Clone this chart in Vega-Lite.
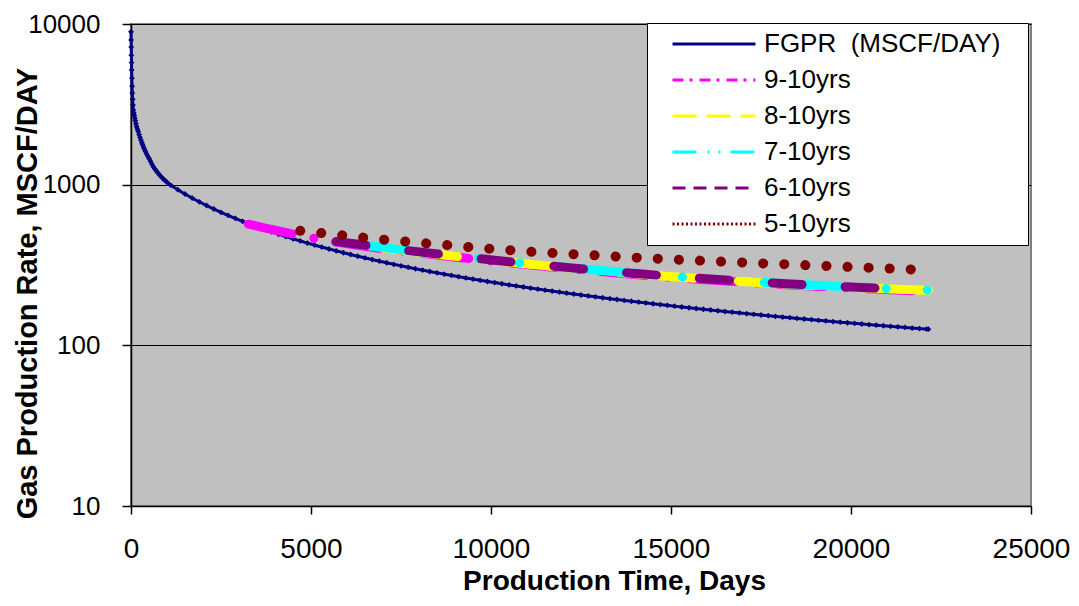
{
"$schema":"https://vega.github.io/schema/vega-lite/v6.json",
"width":900,"height":482,
"autosize":{"type":"none"},
"padding":{"left":131,"top":24,"right":48,"bottom":100},
"background":"white",
"config":{
 "font":"Liberation Sans",
 "view":{"fill":"#C0C0C0","stroke":"#808080","strokeWidth":2},
 "axis":{"domainColor":"black","domainWidth":1.5,"tickColor":"black","tickWidth":1.5,"labelColor":"black","titleColor":"black","labelFont":"Liberation Sans","titleFont":"Liberation Sans","titleFontWeight":"bold"}
},
"data":{"values":[
{"t":0,"q":8950,"s":"FGPR\u00a0\u00a0(MSCF/DAY)\u2800"},{"t":3,"q":7950,"s":"FGPR\u00a0\u00a0(MSCF/DAY)\u2800"},{"t":6,"q":7180,"s":"FGPR\u00a0\u00a0(MSCF/DAY)\u2800"},{"t":10,"q":6400,"s":"FGPR\u00a0\u00a0(MSCF/DAY)\u2800"},{"t":14,"q":5750,"s":"FGPR\u00a0\u00a0(MSCF/DAY)\u2800"},{"t":18,"q":5180,"s":"FGPR\u00a0\u00a0(MSCF/DAY)\u2800"},{"t":24,"q":4600,"s":"FGPR\u00a0\u00a0(MSCF/DAY)\u2800"},{"t":30,"q":4100,"s":"FGPR\u00a0\u00a0(MSCF/DAY)\u2800"},{"t":37,"q":3720,"s":"FGPR\u00a0\u00a0(MSCF/DAY)\u2800"},{"t":45,"q":3400,"s":"FGPR\u00a0\u00a0(MSCF/DAY)\u2800"},{"t":55,"q":3130,"s":"FGPR\u00a0\u00a0(MSCF/DAY)\u2800"},{"t":65,"q":2917,"s":"FGPR\u00a0\u00a0(MSCF/DAY)\u2800"},{"t":77,"q":2800,"s":"FGPR\u00a0\u00a0(MSCF/DAY)\u2800"},{"t":90,"q":2700,"s":"FGPR\u00a0\u00a0(MSCF/DAY)\u2800"},{"t":105,"q":2600,"s":"FGPR\u00a0\u00a0(MSCF/DAY)\u2800"},{"t":120,"q":2500,"s":"FGPR\u00a0\u00a0(MSCF/DAY)\u2800"},{"t":138,"q":2395,"s":"FGPR\u00a0\u00a0(MSCF/DAY)\u2800"},{"t":157,"q":2296,"s":"FGPR\u00a0\u00a0(MSCF/DAY)\u2800"},{"t":178,"q":2215,"s":"FGPR\u00a0\u00a0(MSCF/DAY)\u2800"},{"t":200,"q":2140,"s":"FGPR\u00a0\u00a0(MSCF/DAY)\u2800"},{"t":225,"q":2050,"s":"FGPR\u00a0\u00a0(MSCF/DAY)\u2800"},{"t":250,"q":1970,"s":"FGPR\u00a0\u00a0(MSCF/DAY)\u2800"},{"t":275,"q":1898,"s":"FGPR\u00a0\u00a0(MSCF/DAY)\u2800"},{"t":300,"q":1830,"s":"FGPR\u00a0\u00a0(MSCF/DAY)\u2800"},{"t":320,"q":1780,"s":"FGPR\u00a0\u00a0(MSCF/DAY)\u2800"},{"t":343,"q":1722,"s":"FGPR\u00a0\u00a0(MSCF/DAY)\u2800"},{"t":370,"q":1668,"s":"FGPR\u00a0\u00a0(MSCF/DAY)\u2800"},{"t":400,"q":1610,"s":"FGPR\u00a0\u00a0(MSCF/DAY)\u2800"},{"t":435,"q":1553,"s":"FGPR\u00a0\u00a0(MSCF/DAY)\u2800"},{"t":470,"q":1500,"s":"FGPR\u00a0\u00a0(MSCF/DAY)\u2800"},{"t":505,"q":1449,"s":"FGPR\u00a0\u00a0(MSCF/DAY)\u2800"},{"t":540,"q":1400,"s":"FGPR\u00a0\u00a0(MSCF/DAY)\u2800"},{"t":580,"q":1346,"s":"FGPR\u00a0\u00a0(MSCF/DAY)\u2800"},{"t":620,"q":1294,"s":"FGPR\u00a0\u00a0(MSCF/DAY)\u2800"},{"t":660,"q":1256,"s":"FGPR\u00a0\u00a0(MSCF/DAY)\u2800"},{"t":700,"q":1220,"s":"FGPR\u00a0\u00a0(MSCF/DAY)\u2800"},{"t":750,"q":1182,"s":"FGPR\u00a0\u00a0(MSCF/DAY)\u2800"},{"t":800,"q":1145,"s":"FGPR\u00a0\u00a0(MSCF/DAY)\u2800"},{"t":850,"q":1114,"s":"FGPR\u00a0\u00a0(MSCF/DAY)\u2800"},{"t":900,"q":1085,"s":"FGPR\u00a0\u00a0(MSCF/DAY)\u2800"},{"t":950,"q":1059,"s":"FGPR\u00a0\u00a0(MSCF/DAY)\u2800"},{"t":1000,"q":1035,"s":"FGPR\u00a0\u00a0(MSCF/DAY)\u2800"},{"t":1100,"q":994,"s":"FGPR\u00a0\u00a0(MSCF/DAY)\u2800"},
{"t":1300,"q":930.8,"s":"FGPR\u00a0\u00a0(MSCF/DAY)\u2800"},{"t":1500,"q":874.9,"s":"FGPR\u00a0\u00a0(MSCF/DAY)\u2800"},{"t":1700,"q":825.4,"s":"FGPR\u00a0\u00a0(MSCF/DAY)\u2800"},{"t":1900,"q":781.2,"s":"FGPR\u00a0\u00a0(MSCF/DAY)\u2800"},{"t":2100,"q":741.5,"s":"FGPR\u00a0\u00a0(MSCF/DAY)\u2800"},{"t":2300,"q":705.6,"s":"FGPR\u00a0\u00a0(MSCF/DAY)\u2800"},{"t":2500,"q":673,"s":"FGPR\u00a0\u00a0(MSCF/DAY)\u2800"},{"t":2700,"q":643.3,"s":"FGPR\u00a0\u00a0(MSCF/DAY)\u2800"},{"t":2900,"q":616.2,"s":"FGPR\u00a0\u00a0(MSCF/DAY)\u2800"},{"t":3100,"q":591.2,"s":"FGPR\u00a0\u00a0(MSCF/DAY)\u2800"},{"t":3300,"q":568.1,"s":"FGPR\u00a0\u00a0(MSCF/DAY)\u2800"},{"t":3500,"q":546.8,"s":"FGPR\u00a0\u00a0(MSCF/DAY)\u2800"},{"t":3700,"q":527.1,"s":"FGPR\u00a0\u00a0(MSCF/DAY)\u2800"},{"t":3900,"q":508.7,"s":"FGPR\u00a0\u00a0(MSCF/DAY)\u2800"},{"t":4100,"q":491.5,"s":"FGPR\u00a0\u00a0(MSCF/DAY)\u2800"},{"t":4300,"q":475.5,"s":"FGPR\u00a0\u00a0(MSCF/DAY)\u2800"},{"t":4500,"q":460.5,"s":"FGPR\u00a0\u00a0(MSCF/DAY)\u2800"},{"t":4700,"q":446.4,"s":"FGPR\u00a0\u00a0(MSCF/DAY)\u2800"},{"t":4900,"q":433.1,"s":"FGPR\u00a0\u00a0(MSCF/DAY)\u2800"},{"t":5100,"q":420.7,"s":"FGPR\u00a0\u00a0(MSCF/DAY)\u2800"},{"t":5300,"q":408.9,"s":"FGPR\u00a0\u00a0(MSCF/DAY)\u2800"},{"t":5500,"q":397.7,"s":"FGPR\u00a0\u00a0(MSCF/DAY)\u2800"},{"t":5700,"q":387.2,"s":"FGPR\u00a0\u00a0(MSCF/DAY)\u2800"},{"t":5900,"q":377.1,"s":"FGPR\u00a0\u00a0(MSCF/DAY)\u2800"},{"t":6100,"q":367.6,"s":"FGPR\u00a0\u00a0(MSCF/DAY)\u2800"},{"t":6300,"q":358.6,"s":"FGPR\u00a0\u00a0(MSCF/DAY)\u2800"},{"t":6500,"q":350,"s":"FGPR\u00a0\u00a0(MSCF/DAY)\u2800"},{"t":6700,"q":341.8,"s":"FGPR\u00a0\u00a0(MSCF/DAY)\u2800"},{"t":6900,"q":334,"s":"FGPR\u00a0\u00a0(MSCF/DAY)\u2800"},{"t":7100,"q":326.5,"s":"FGPR\u00a0\u00a0(MSCF/DAY)\u2800"},{"t":7300,"q":319.3,"s":"FGPR\u00a0\u00a0(MSCF/DAY)\u2800"},{"t":7500,"q":312.5,"s":"FGPR\u00a0\u00a0(MSCF/DAY)\u2800"},{"t":7700,"q":305.9,"s":"FGPR\u00a0\u00a0(MSCF/DAY)\u2800"},{"t":7900,"q":299.6,"s":"FGPR\u00a0\u00a0(MSCF/DAY)\u2800"},{"t":8100,"q":293.7,"s":"FGPR\u00a0\u00a0(MSCF/DAY)\u2800"},{"t":8300,"q":288,"s":"FGPR\u00a0\u00a0(MSCF/DAY)\u2800"},{"t":8500,"q":282.5,"s":"FGPR\u00a0\u00a0(MSCF/DAY)\u2800"},{"t":8700,"q":277.4,"s":"FGPR\u00a0\u00a0(MSCF/DAY)\u2800"},{"t":8900,"q":272.3,"s":"FGPR\u00a0\u00a0(MSCF/DAY)\u2800"},{"t":9100,"q":267.5,"s":"FGPR\u00a0\u00a0(MSCF/DAY)\u2800"},{"t":9300,"q":262.8,"s":"FGPR\u00a0\u00a0(MSCF/DAY)\u2800"},{"t":9500,"q":258.3,"s":"FGPR\u00a0\u00a0(MSCF/DAY)\u2800"},{"t":9700,"q":253.9,"s":"FGPR\u00a0\u00a0(MSCF/DAY)\u2800"},{"t":9900,"q":249.7,"s":"FGPR\u00a0\u00a0(MSCF/DAY)\u2800"},{"t":10100,"q":245.7,"s":"FGPR\u00a0\u00a0(MSCF/DAY)\u2800"},{"t":10300,"q":241.8,"s":"FGPR\u00a0\u00a0(MSCF/DAY)\u2800"},{"t":10500,"q":237.9,"s":"FGPR\u00a0\u00a0(MSCF/DAY)\u2800"},{"t":10700,"q":234.3,"s":"FGPR\u00a0\u00a0(MSCF/DAY)\u2800"},{"t":10900,"q":230.7,"s":"FGPR\u00a0\u00a0(MSCF/DAY)\u2800"},{"t":11100,"q":227.2,"s":"FGPR\u00a0\u00a0(MSCF/DAY)\u2800"},{"t":11300,"q":223.9,"s":"FGPR\u00a0\u00a0(MSCF/DAY)\u2800"},{"t":11500,"q":220.6,"s":"FGPR\u00a0\u00a0(MSCF/DAY)\u2800"},{"t":11700,"q":217.5,"s":"FGPR\u00a0\u00a0(MSCF/DAY)\u2800"},{"t":11900,"q":214.5,"s":"FGPR\u00a0\u00a0(MSCF/DAY)\u2800"},{"t":12100,"q":211.4,"s":"FGPR\u00a0\u00a0(MSCF/DAY)\u2800"},{"t":12300,"q":208.6,"s":"FGPR\u00a0\u00a0(MSCF/DAY)\u2800"},{"t":12500,"q":205.8,"s":"FGPR\u00a0\u00a0(MSCF/DAY)\u2800"},{"t":12700,"q":203,"s":"FGPR\u00a0\u00a0(MSCF/DAY)\u2800"},{"t":12900,"q":200.4,"s":"FGPR\u00a0\u00a0(MSCF/DAY)\u2800"},{"t":13100,"q":197.8,"s":"FGPR\u00a0\u00a0(MSCF/DAY)\u2800"},{"t":13300,"q":195.2,"s":"FGPR\u00a0\u00a0(MSCF/DAY)\u2800"},{"t":13500,"q":192.8,"s":"FGPR\u00a0\u00a0(MSCF/DAY)\u2800"},{"t":13700,"q":190.4,"s":"FGPR\u00a0\u00a0(MSCF/DAY)\u2800"},{"t":13900,"q":188.1,"s":"FGPR\u00a0\u00a0(MSCF/DAY)\u2800"},{"t":14100,"q":185.8,"s":"FGPR\u00a0\u00a0(MSCF/DAY)\u2800"},{"t":14300,"q":183.6,"s":"FGPR\u00a0\u00a0(MSCF/DAY)\u2800"},{"t":14500,"q":181.5,"s":"FGPR\u00a0\u00a0(MSCF/DAY)\u2800"},{"t":14700,"q":179.3,"s":"FGPR\u00a0\u00a0(MSCF/DAY)\u2800"},{"t":14900,"q":177.3,"s":"FGPR\u00a0\u00a0(MSCF/DAY)\u2800"},{"t":15100,"q":175.2,"s":"FGPR\u00a0\u00a0(MSCF/DAY)\u2800"},{"t":15300,"q":173.3,"s":"FGPR\u00a0\u00a0(MSCF/DAY)\u2800"},{"t":15500,"q":171.4,"s":"FGPR\u00a0\u00a0(MSCF/DAY)\u2800"},{"t":15700,"q":169.5,"s":"FGPR\u00a0\u00a0(MSCF/DAY)\u2800"},{"t":15900,"q":167.7,"s":"FGPR\u00a0\u00a0(MSCF/DAY)\u2800"},{"t":16100,"q":165.9,"s":"FGPR\u00a0\u00a0(MSCF/DAY)\u2800"},{"t":16300,"q":164.1,"s":"FGPR\u00a0\u00a0(MSCF/DAY)\u2800"},{"t":16500,"q":162.4,"s":"FGPR\u00a0\u00a0(MSCF/DAY)\u2800"},{"t":16700,"q":160.8,"s":"FGPR\u00a0\u00a0(MSCF/DAY)\u2800"},{"t":16900,"q":159.1,"s":"FGPR\u00a0\u00a0(MSCF/DAY)\u2800"},{"t":17100,"q":157.5,"s":"FGPR\u00a0\u00a0(MSCF/DAY)\u2800"},{"t":17300,"q":155.9,"s":"FGPR\u00a0\u00a0(MSCF/DAY)\u2800"},{"t":17500,"q":154.4,"s":"FGPR\u00a0\u00a0(MSCF/DAY)\u2800"},{"t":17700,"q":152.9,"s":"FGPR\u00a0\u00a0(MSCF/DAY)\u2800"},{"t":17900,"q":151.4,"s":"FGPR\u00a0\u00a0(MSCF/DAY)\u2800"},{"t":18100,"q":150,"s":"FGPR\u00a0\u00a0(MSCF/DAY)\u2800"},{"t":18300,"q":148.6,"s":"FGPR\u00a0\u00a0(MSCF/DAY)\u2800"},{"t":18500,"q":147.1,"s":"FGPR\u00a0\u00a0(MSCF/DAY)\u2800"},{"t":18700,"q":145.8,"s":"FGPR\u00a0\u00a0(MSCF/DAY)\u2800"},{"t":18900,"q":144.5,"s":"FGPR\u00a0\u00a0(MSCF/DAY)\u2800"},{"t":19100,"q":143.1,"s":"FGPR\u00a0\u00a0(MSCF/DAY)\u2800"},{"t":19300,"q":141.9,"s":"FGPR\u00a0\u00a0(MSCF/DAY)\u2800"},{"t":19500,"q":140.6,"s":"FGPR\u00a0\u00a0(MSCF/DAY)\u2800"},{"t":19700,"q":139.3,"s":"FGPR\u00a0\u00a0(MSCF/DAY)\u2800"},{"t":19900,"q":138.2,"s":"FGPR\u00a0\u00a0(MSCF/DAY)\u2800"},{"t":20100,"q":137,"s":"FGPR\u00a0\u00a0(MSCF/DAY)\u2800"},{"t":20300,"q":135.8,"s":"FGPR\u00a0\u00a0(MSCF/DAY)\u2800"},{"t":20500,"q":134.6,"s":"FGPR\u00a0\u00a0(MSCF/DAY)\u2800"},{"t":20700,"q":133.5,"s":"FGPR\u00a0\u00a0(MSCF/DAY)\u2800"},{"t":20900,"q":132.4,"s":"FGPR\u00a0\u00a0(MSCF/DAY)\u2800"},{"t":21100,"q":131.3,"s":"FGPR\u00a0\u00a0(MSCF/DAY)\u2800"},{"t":21300,"q":130.2,"s":"FGPR\u00a0\u00a0(MSCF/DAY)\u2800"},{"t":21500,"q":129.2,"s":"FGPR\u00a0\u00a0(MSCF/DAY)\u2800"},{"t":21700,"q":128.1,"s":"FGPR\u00a0\u00a0(MSCF/DAY)\u2800"},{"t":21900,"q":127.1,"s":"FGPR\u00a0\u00a0(MSCF/DAY)\u2800"},{"t":22100,"q":126.2,"s":"FGPR\u00a0\u00a0(MSCF/DAY)\u2800"},{"t":22150,"q":126,"s":"FGPR\u00a0\u00a0(MSCF/DAY)\u2800"},
{"t":3258,"q":568,"s":"9-10yrs"},{"t":3700,"q":539,"s":"9-10yrs"},{"t":4100,"q":515,"s":"9-10yrs"},{"t":4500,"q":493,"s":"9-10yrs"},{"t":4972,"q":469,"s":"9-10yrs"},{"t":5700,"q":440,"s":"9-10yrs"},{"t":6300,"q":419,"s":"9-10yrs"},{"t":7000,"q":400,"s":"9-10yrs"},{"t":7700,"q":383,"s":"9-10yrs"},{"t":8400,"q":367,"s":"9-10yrs"},{"t":9100,"q":352,"s":"9-10yrs"},{"t":9800,"q":339,"s":"9-10yrs"},{"t":10500,"q":326,"s":"9-10yrs"},{"t":11200,"q":315,"s":"9-10yrs"},{"t":11900,"q":304,"s":"9-10yrs"},{"t":12600,"q":294,"s":"9-10yrs"},{"t":13300,"q":285,"s":"9-10yrs"},{"t":14000,"q":276,"s":"9-10yrs"},{"t":14700,"q":268,"s":"9-10yrs"},{"t":15400,"q":261,"s":"9-10yrs"},{"t":16100,"q":255,"s":"9-10yrs"},{"t":16800,"q":249,"s":"9-10yrs"},{"t":17500,"q":243,"s":"9-10yrs"},{"t":18200,"q":238,"s":"9-10yrs"},{"t":18900,"q":234,"s":"9-10yrs"},{"t":19600,"q":230,"s":"9-10yrs"},{"t":20300,"q":226,"s":"9-10yrs"},{"t":21000,"q":222.5,"s":"9-10yrs"},{"t":21700,"q":219,"s":"9-10yrs"},{"t":22200,"q":217,"s":"9-10yrs"},
{"t":7000,"q":404,"s":"8-10yrs"},{"t":7700,"q":387,"s":"8-10yrs"},{"t":8400,"q":371,"s":"8-10yrs"},{"t":9100,"q":356,"s":"8-10yrs"},{"t":9800,"q":342.5,"s":"8-10yrs"},{"t":10500,"q":329.5,"s":"8-10yrs"},{"t":11200,"q":318,"s":"8-10yrs"},{"t":11900,"q":307,"s":"8-10yrs"},{"t":12600,"q":297,"s":"8-10yrs"},{"t":13300,"q":287.5,"s":"8-10yrs"},{"t":14000,"q":279,"s":"8-10yrs"},{"t":14700,"q":271,"s":"8-10yrs"},{"t":15400,"q":264,"s":"8-10yrs"},{"t":16100,"q":257.5,"s":"8-10yrs"},{"t":16800,"q":251.5,"s":"8-10yrs"},{"t":17500,"q":245.5,"s":"8-10yrs"},{"t":18200,"q":240.5,"s":"8-10yrs"},{"t":18900,"q":236,"s":"8-10yrs"},{"t":19600,"q":232,"s":"8-10yrs"},{"t":20300,"q":228,"s":"8-10yrs"},{"t":21000,"q":225,"s":"8-10yrs"},{"t":21700,"q":221.5,"s":"8-10yrs"},{"t":22150,"q":220,"s":"8-10yrs"},
{"t":6300,"q":425.5,"s":"7-10yrs"},{"t":7000,"q":406.4,"s":"7-10yrs"},{"t":7700,"q":388.7,"s":"7-10yrs"},{"t":8400,"q":372.9,"s":"7-10yrs"},{"t":9100,"q":357.8,"s":"7-10yrs"},{"t":9800,"q":344.2,"s":"7-10yrs"},{"t":10500,"q":331.1,"s":"7-10yrs"},{"t":11200,"q":319.5,"s":"7-10yrs"},{"t":11900,"q":308.6,"s":"7-10yrs"},{"t":12600,"q":298.2,"s":"7-10yrs"},{"t":13300,"q":288.9,"s":"7-10yrs"},{"t":14000,"q":280.4,"s":"7-10yrs"},{"t":14700,"q":272.4,"s":"7-10yrs"},{"t":15400,"q":265.2,"s":"7-10yrs"},{"t":16100,"q":258.8,"s":"7-10yrs"},{"t":16800,"q":252.6,"s":"7-10yrs"},{"t":17500,"q":246.9,"s":"7-10yrs"},{"t":18200,"q":241.9,"s":"7-10yrs"},{"t":18900,"q":237.2,"s":"7-10yrs"},{"t":19600,"q":233.2,"s":"7-10yrs"},{"t":20300,"q":229.1,"s":"7-10yrs"},{"t":21000,"q":225.9,"s":"7-10yrs"},{"t":21700,"q":222.6,"s":"7-10yrs"},{"t":22150,"q":221,"s":"7-10yrs"},
{"t":5700,"q":443,"s":"6-10yrs"},{"t":6300,"q":425.5,"s":"6-10yrs"},{"t":7000,"q":406.4,"s":"6-10yrs"},{"t":7700,"q":388.7,"s":"6-10yrs"},{"t":8400,"q":372.9,"s":"6-10yrs"},{"t":9100,"q":357.8,"s":"6-10yrs"},{"t":9800,"q":344.2,"s":"6-10yrs"},{"t":10500,"q":331.1,"s":"6-10yrs"},{"t":11200,"q":319.5,"s":"6-10yrs"},{"t":11900,"q":308.6,"s":"6-10yrs"},{"t":12600,"q":298.2,"s":"6-10yrs"},{"t":13300,"q":288.9,"s":"6-10yrs"},{"t":14000,"q":280.4,"s":"6-10yrs"},{"t":14700,"q":272.4,"s":"6-10yrs"},{"t":15400,"q":265.2,"s":"6-10yrs"},{"t":16100,"q":258.8,"s":"6-10yrs"},{"t":16800,"q":252.6,"s":"6-10yrs"},{"t":17500,"q":246.9,"s":"6-10yrs"},{"t":18200,"q":241.9,"s":"6-10yrs"},{"t":18900,"q":237.2,"s":"6-10yrs"},{"t":19600,"q":233.2,"s":"6-10yrs"},{"t":20300,"q":229.1,"s":"6-10yrs"},{"t":21000,"q":225.9,"s":"6-10yrs"},
{"t":4700,"q":516,"s":"5-10yrs"},{"t":5500,"q":494,"s":"5-10yrs"},{"t":6300,"q":472,"s":"5-10yrs"},{"t":7100,"q":453,"s":"5-10yrs"},{"t":7900,"q":437,"s":"5-10yrs"},{"t":8700,"q":422,"s":"5-10yrs"},{"t":9500,"q":407,"s":"5-10yrs"},{"t":10300,"q":394,"s":"5-10yrs"},{"t":11100,"q":383,"s":"5-10yrs"},{"t":11900,"q":374,"s":"5-10yrs"},{"t":12700,"q":365,"s":"5-10yrs"},{"t":13500,"q":357,"s":"5-10yrs"},{"t":14300,"q":349,"s":"5-10yrs"},{"t":15100,"q":342,"s":"5-10yrs"},{"t":15900,"q":336,"s":"5-10yrs"},{"t":16700,"q":330,"s":"5-10yrs"},{"t":17500,"q":324,"s":"5-10yrs"},{"t":18300,"q":319,"s":"5-10yrs"},{"t":19100,"q":313,"s":"5-10yrs"},{"t":19900,"q":308,"s":"5-10yrs"},{"t":20700,"q":303,"s":"5-10yrs"},{"t":21500,"q":298,"s":"5-10yrs"},{"t":21800,"q":296,"s":"5-10yrs"}
]},
"encoding":{
 "x":{"field":"t","type":"quantitative","scale":{"domain":[0,25000],"nice":false},
  "axis":{"title":"Production Time, Days","values":[0,5000,10000,15000,20000,25000],"format":"d","grid":false,"labelFontSize":28,"labelPadding":21,"tickSize":8,"titleFontSize":28,"titleX":483,"titleY":83,"titleBaseline":"alphabetic","titleAlign":"center","labelFlush":false,"labelOverlap":false}},
 "y":{"field":"q","type":"quantitative","scale":{"type":"log","domain":[10,10000],"nice":false},
  "axis":{"title":"Gas Production Rate, MSCF/DAY","values":[10,100,1000,10000],"format":"d","grid":true,"gridColor":"black","gridWidth":1,"gridOpacity":1,"labelFontSize":26,"labelPadding":22,"tickSize":9,"titleFontSize":29,"titleX":-95,"titleY":269,"titleBaseline":"alphabetic","titleAlign":"center","titleAngle":270,"labelFlush":false,"labelOverlap":false}}
},
"layer":[
 {"transform":[{"filter":"indexof(datum.s,'FGPR')===0"}],
  "mark":{"type":"point","shape":"diamond","filled":true,"size":34,"color":"#000080","opacity":1,"strokeWidth":0}},
 {"mark":{"type":"line","strokeCap":"round","strokeJoin":"round","interpolate":"monotone"},
  "encoding":{
   "color":{"field":"s","type":"nominal",
    "scale":{"domain":["FGPR\u00a0\u00a0(MSCF/DAY)\u2800","9-10yrs","8-10yrs","7-10yrs","6-10yrs","5-10yrs"],"range":["#000080","#FF00FF","#FFFF00","#00FFFF","#800080","#800000"]},
    "legend":{"title":null,"orient":"none","legendX":516,"legendY":-1,"fillColor":"white","strokeColor":"black","padding":8,"symbolType":"M-4.15,0H4.15","symbolSize":400,"symbolStrokeWidth":3,"symbolOffset":46,"labelFontSize":26,"labelFont":"Liberation Sans","labelColor":"black","labelOffset":37,"rowPadding":10,"labelLimit":500,
     "encode":{"symbols":{"update":{
       "strokeWidth":{"value":3},
       "strokeCap":{"value":"butt"},
       "strokeDash":{"signal":"datum.value==='9-10yrs'?[11,6,3,7]:datum.value==='8-10yrs'?[24,10]:datum.value==='7-10yrs'?[24,11,2,9,2,10]:datum.value==='6-10yrs'?[13,8]:datum.value==='5-10yrs'?[2,2.5]:[1,0]"}
     }}}}},
   "strokeDash":{"condition":[
     {"test":"datum.s==='9-10yrs'","value":[45,22,0.1,22]},
     {"test":"datum.s==='8-10yrs'","value":[75,44]},
     {"test":"datum.s==='7-10yrs'","value":[75,47,0.1,41,0.1,41]},
     {"test":"datum.s==='6-10yrs'","value":[30,43]},
     {"test":"datum.s==='5-10yrs'","value":[0.1,21]}
    ],"value":[1,0]},
   "strokeWidth":{"condition":[
     {"test":"indexof(datum.s,'FGPR')===0","value":3},
     {"test":"datum.s==='5-10yrs'","value":10}
    ],"value":9}
  }}
]
}
